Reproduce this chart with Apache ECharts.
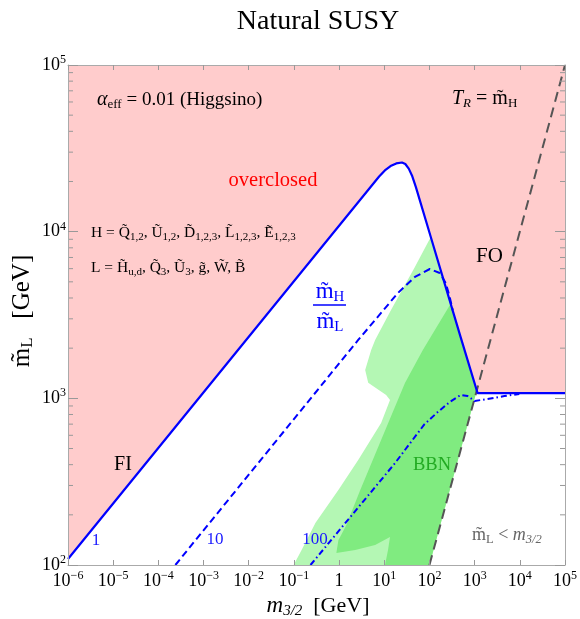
<!DOCTYPE html>
<html><head><meta charset="utf-8">
<script src="https://cdn.jsdelivr.net/npm/echarts@6/dist/echarts.min.js"></script>
<style>html,body{margin:0;padding:0;background:#fff}#c{width:580px;height:619px}</style>
</head><body><div id="c"></div>
<script>
// ---- data (m3/2 in GeV, mL in GeV) ----
const xTickExps = [-6, -5, -4, -3, -2, -1, 0, 1, 2, 3, 4, 5];
const yTickExps = [2, 3, 4, 5];
const minorFactors = [2, 3, 4, 5, 6, 7, 8, 9];
// solid blue boundary (ratio 1): FI line, peak, FO drop, flat part
const boundaryM = [1e-6, 7.69, 10.3, 13.77, 18.43, 24.66, 29.22, 34.8, 41.7, 50.1, 107, 490, 1160, 1e5];
const boundaryL = [108.6, 21430, 23320, 24770, 25680, 26000, 25470, 23900, 21490, 18500, 9290, 2330, 1076, 1076];
// dashed blue (ratio 10)
const ratio10M = [2.38e-4, 2.65, 20.1, 47.6, 102, 169, 229, 281, 327];
const ratio10L = [100, 2240, 4290, 5350, 5970, 5650, 4920, 4055, 3375];
// dash-dot blue (ratio 100)
const ratio100M = [0.233, 17.1, 77.8, 153, 281, 490, 698, 1000, 1923, 4550, 9730];
const ratio100L = [100, 407, 700, 828, 951, 1047, 1032, 964, 991, 1032, 1062];
// gray dashed: mL = m3/2
const diagM = [100, 1e5];
const diagL = [100, 1e5];
// BBN light green region
const bbnOuterM = [107, 47.6, 14.1, 6.28, 5.13, 3.78, 4.41, 11.0, 13.4, 8.51, 2.65, 0.964, 0.301, 0.148, 0.0986, 100, 1115, 490];
const bbnOuterL = [9290, 6140, 3390, 2240, 1950, 1480, 1240, 1047, 977, 711, 427, 282, 179, 123, 100, 100, 1115, 2330];
// BBN dark green region
const bbnInnerM = [295, 71.4, 28.7, 8.51, 2.94, 1.45, 0.964, 0.871, 2.28, 6.28, 13.4, 12.1, 10.4, 100, 1115, 490];
const bbnInnerL = [3700, 1950, 1236, 562, 282, 174, 141, 118, 123, 132, 147, 123, 100, 100, 1115, 2330];

// ---- helpers ----
const FONT = '"Liberation Serif","Times New Roman",serif';
const lg = Math.log10;
const pts = (ms, ls) => ms.map((m, i) => [lg(m), lg(ls[i])]);
const X0 = xTickExps[0], X1 = xTickExps[xTickExps.length - 1];
const Y0 = yTickExps[0], Y1 = yTickExps[yTickExps.length - 1];

const pinkPts = [[X0, Y1]].concat(pts(boundaryM, boundaryL)).concat([[X1, Y1]]);

function polySeries(data, color, z) {
  return {
    type: 'custom', silent: true, z: z, animation: false,
    encode: { x: 0, y: 1 },
    data: data,
    renderItem: function (params, api) {
      if (params.dataIndex !== 0) return null;
      const points = data.map(d => api.coord(d));
      return { type: 'polygon', shape: { points: points }, style: { fill: color } };
    }
  };
}
function lineSeries(data, color, width, type, z) {
  return {
    type: 'line', data: data, showSymbol: false, symbol: 'none', z: z, animation: false, silent: true,
    lineStyle: { color: color, width: width, type: type, join: 'round' }
  };
}
const minorData = [];
for (let e = Y0; e < Y1; e++) for (const k of minorFactors) minorData.push([X0, e + lg(k)]);

function expLabel(v) {
  const e = Math.round(v);
  if (e === 0) return '{b|1}';
  return '{b|10}{s|' + (e < 0 ? '\u2212' + (-e) : e) + '}';
}
const labelRich = {
  b: { fontFamily: FONT, fontSize: 18, height: 18, lineHeight: 20, color: '#000' },
  s: { fontFamily: FONT, fontSize: 12, height: 10, lineHeight: 10, verticalAlign: 'top', color: '#000' }
};
const axisCommon = {
  type: 'value', splitLine: { show: false }, z: 10,
  axisLine: { show: true, onZero: false, lineStyle: { color: '#aaaaaa', width: 1 } }
};

const chart = echarts.init(document.getElementById('c'), null, { renderer: 'canvas' });

function T(size, extra) {
  return Object.assign({ fontFamily: FONT, fontSize: size, height: size, fill: '#000' }, extra || {});
}
function txt(x, y, text, rich, extra) {
  return {
    type: 'text', x: x, y: y, z: 100, silent: true,
    style: Object.assign({ text: text, rich: rich, align: 'left', verticalAlign: 'middle', fontFamily: FONT }, extra || {})
  };
}

const option = {
  animation: false,
  backgroundColor: '#ffffff',
  grid: { left: 68, right: 12, top: 65, bottom: 54, containLabel: false },
  xAxis: [
    Object.assign({}, axisCommon, {
      position: 'bottom', min: X0, max: X1, interval: 1,
      axisTick: { show: true, inside: true, length: 5, lineStyle: { color: '#999' } },
      axisLabel: { show: true, margin: 6, formatter: expLabel, rich: labelRich }
    }),
    Object.assign({}, axisCommon, {
      position: 'top', min: X0, max: X1, interval: 1,
      axisTick: { show: true, inside: true, length: 5, lineStyle: { color: '#999' } },
      axisLabel: { show: false }
    })
  ],
  yAxis: [
    Object.assign({}, axisCommon, {
      position: 'left', min: Y0, max: Y1, interval: 1,
      axisTick: { show: true, inside: true, length: 10, lineStyle: { color: '#999' } },
      axisLabel: { show: true, margin: 2, formatter: expLabel, rich: labelRich }
    }),
    Object.assign({}, axisCommon, {
      position: 'right', min: Y0, max: Y1, interval: 1,
      axisTick: { show: true, inside: true, length: 10, lineStyle: { color: '#999' } },
      axisLabel: { show: false }
    })
  ],
  series: [
    polySeries(pinkPts, '#ffcccc', 1),
    polySeries(pts(bbnOuterM, bbnOuterL), '#b4f7b4', 2),
    polySeries(pts(bbnInnerM, bbnInnerL), '#80eb80', 3),
    lineSeries(pts(diagM, diagL), '#555555', 2, [10, 6], 4),
    lineSeries(pts(ratio10M, ratio10L), '#0000ff', 2, [7, 4], 5),
    lineSeries(pts(ratio100M, ratio100L), '#0000ff', 2, [6, 3, 1.5, 3], 5),
    lineSeries(pts(boundaryM, boundaryL), '#0000ff', 2.2, 'solid', 6),
    {
      type: 'custom', silent: true, z: 7, animation: false, encode: { x: 0, y: 1 }, data: minorData,
      renderItem: function (params, api) {
        const y = api.value(1);
        const a = api.coord([X0, y]), b = api.coord([X1, y]);
        return { type: 'group', children: [
          { type: 'line', shape: { x1: a[0], y1: a[1], x2: a[0] + 5, y2: a[1] }, style: { stroke: '#999', lineWidth: 1 } },
          { type: 'line', shape: { x1: b[0] - 5, y1: b[1], x2: b[0], y2: b[1] }, style: { stroke: '#999', lineWidth: 1 } }
        ] };
      }
    }
  ],
  graphic: [
    txt(318, 22, 'Natural SUSY', null, { fontSize: 28, align: 'center', fill: '#000' }),
    txt(97, 100, '{i|\u03b1}{s|eff}{n| = 0.01 (Higgsino)}', {
      i: T(20, { fontStyle: 'italic', lineHeight: 23 }), n: T(19, { lineHeight: 23 }), s: T(13, { verticalAlign: 'bottom', lineHeight: 13 })
    }),
    txt(452, 99, '{i|T}{si|R}{n| = m\u0303}{s|H}', {
      i: T(20, { fontStyle: 'italic', lineHeight: 23 }), si: T(13, { fontStyle: 'italic', verticalAlign: 'bottom', lineHeight: 13 }),
      n: T(20, { lineHeight: 23 }), s: T(13, { verticalAlign: 'bottom', lineHeight: 13 })
    }),
    txt(273, 181, 'overclosed', null, { fontSize: 20.5, align: 'center', fill: '#ff0000' }),
    txt(91, 233, '{n|H = Q\u0303}{s|1,2}{n|, U\u0303}{s|1,2}{n|, D\u0303}{s|1,2,3}{n|, L\u0303}{s|1,2,3}{n|, E\u0303}{s|1,2,3}', {
      n: T(15.5, { lineHeight: 19 }), s: T(11, { verticalAlign: 'bottom', lineHeight: 11 })
    }),
    txt(91, 268, '{n|L = H\u0303}{s|u,d}{n|, Q\u0303}{s|3}{n|, U\u0303}{s|3}{n|, g\u0303, W\u0303, B\u0303}', {
      n: T(15.5, { lineHeight: 19 }), s: T(11, { verticalAlign: 'bottom', lineHeight: 11 })
    }),
    txt(476, 256, 'FO', null, { fontSize: 21, fill: '#000' }),
    txt(123, 465, 'FI', null, { fontSize: 20, align: 'center', fill: '#000' }),
    txt(432, 465, 'BBN', null, { fontSize: 18.5, align: 'center', fill: '#22aa22' }),
    txt(96, 541, '1', null, { fontSize: 17, align: 'center', fill: '#1a1aff' }),
    txt(215, 540, '10', null, { fontSize: 17, align: 'center', fill: '#1a1aff' }),
    txt(315, 540, '100', null, { fontSize: 17, align: 'center', fill: '#1a1aff' }),
    txt(472, 535, '{n|m\u0303}{s|L}{n| < }{i|m}{si|3/2}', {
      n: T(18, { fill: '#666', lineHeight: 21 }), s: T(12.5, { fill: '#666', verticalAlign: 'bottom', lineHeight: 12 }),
      i: T(18, { fill: '#666', fontStyle: 'italic', lineHeight: 21 }), si: T(12.5, { fill: '#666', fontStyle: 'italic', verticalAlign: 'bottom', lineHeight: 12 })
    }),
    txt(330, 292, '{n|m\u0303}{s|H}', {
      n: T(23, { fill: '#0000ff', lineHeight: 26 }), s: T(15, { fill: '#0000ff', verticalAlign: 'bottom', lineHeight: 15 })
    }, { align: 'center' }),
    { type: 'line', z: 100, silent: true, shape: { x1: 313, y1: 305, x2: 346, y2: 305 }, style: { stroke: '#0000ff', lineWidth: 1.5 } },
    txt(330, 322, '{n|m\u0303}{s|L}', {
      n: T(23, { fill: '#0000ff', lineHeight: 26 }), s: T(15, { fill: '#0000ff', verticalAlign: 'bottom', lineHeight: 15 })
    }, { align: 'center' }),
    txt(318, 606, '{i|m}{si|3/2}{n|  [GeV]}', {
      i: T(23, { fontStyle: 'italic', lineHeight: 26 }), si: T(15, { fontStyle: 'italic', verticalAlign: 'bottom', lineHeight: 15 }),
      n: T(22, { lineHeight: 26 })
    }, { align: 'center' }),
    Object.assign(txt(22, 311, '{n|m\u0303}{s|L}{n|   [GeV]}', {
      n: T(25, { lineHeight: 28 }), s: T(17, { verticalAlign: 'bottom', lineHeight: 17 })
    }, { align: 'center' }), { rotation: Math.PI / 2 })
  ]
};
chart.setOption(option);
</script>
</body></html>
